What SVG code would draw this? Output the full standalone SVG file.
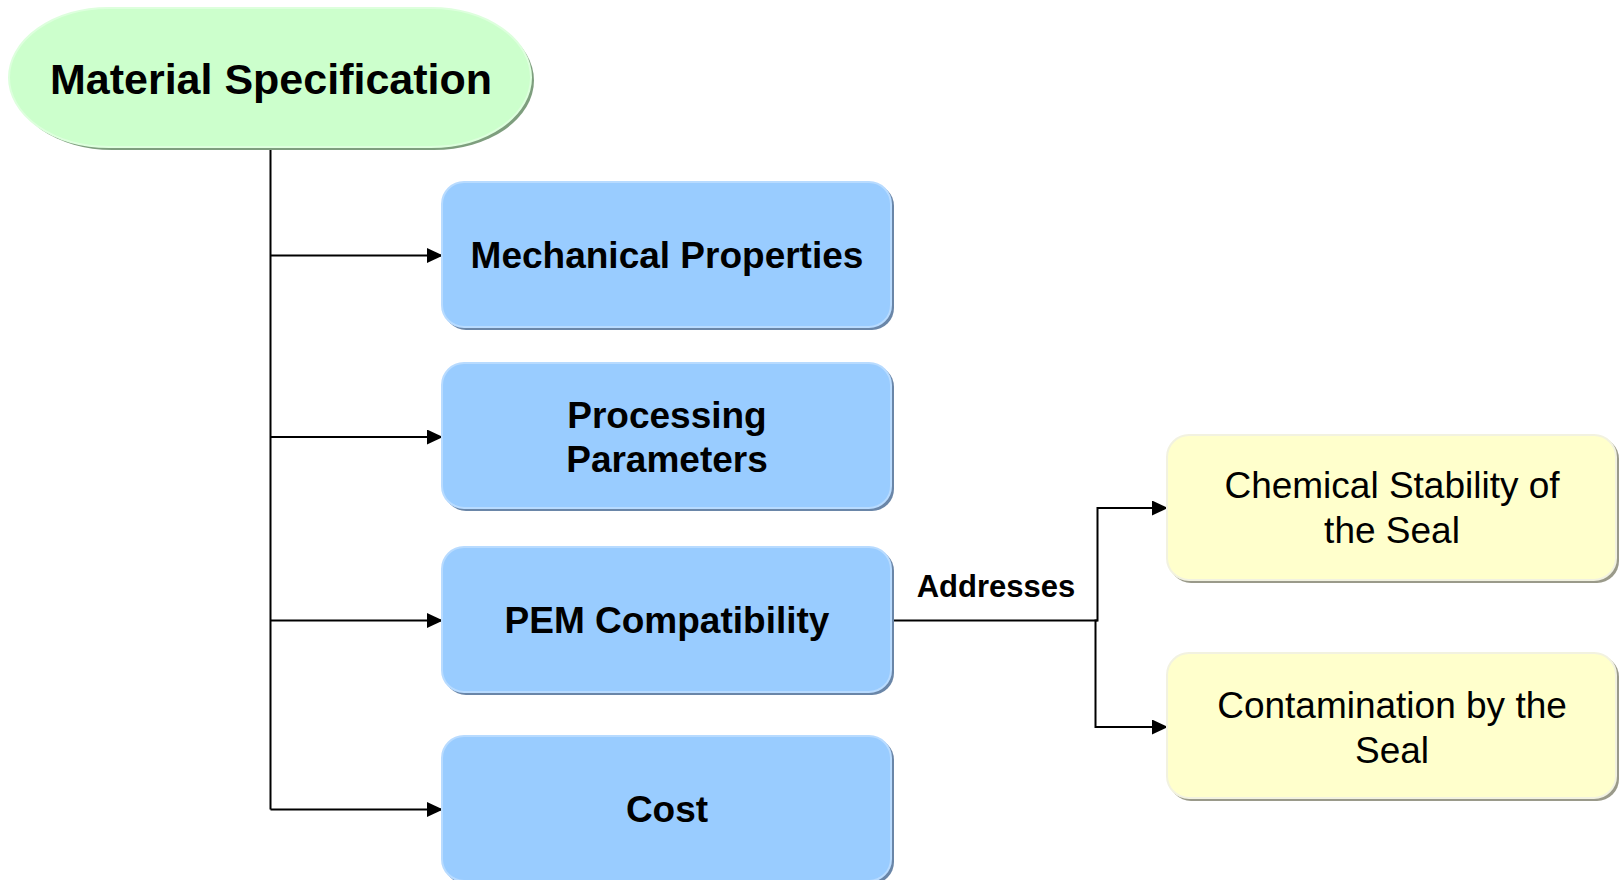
<svg xmlns="http://www.w3.org/2000/svg" width="1619" height="880" viewBox="0 0 1619 880">
<defs>
<style>
.blue{fill:#99CCFF;stroke:#B8DBFF;stroke-width:2}
.blueS{fill:#6A86A8}
.yel{fill:#FFFFCC;stroke:#F2F2E0;stroke-width:2}
.yelS{fill:#9A9A8A}
.grn{fill:#CCFFCC;stroke:#DDFFDD;stroke-width:2}
.grnS{fill:#7E9E7E}
.tb{font-family:"Liberation Sans",Arial,sans-serif;font-weight:bold;fill:#000;text-anchor:middle}
.tn{font-family:"Liberation Sans",Arial,sans-serif;fill:#000;text-anchor:middle}
.ln{fill:none;stroke:#000;stroke-width:2}
</style>
<marker id="ah" viewBox="0 0 10 10" refX="10" refY="5" markerWidth="16" markerHeight="15" markerUnits="userSpaceOnUse" orient="auto" preserveAspectRatio="none">
<path d="M0,0 L10,5 L0,10 z" fill="#000"/>
</marker>
</defs>
<rect width="1619" height="880" fill="#fff"/>
<g id="connectors">
<path class="ln" d="M270.5,147 V809.5"/>
<path class="ln" d="M270.5,255.5 H443" marker-end="url(#ah)"/>
<path class="ln" d="M270.5,437 H443" marker-end="url(#ah)"/>
<path class="ln" d="M270.5,620.5 H443" marker-end="url(#ah)"/>
<path class="ln" d="M270.5,809.5 H443" marker-end="url(#ah)"/>
<path class="ln" d="M891,620.5 H1097.5 V508 H1168" marker-end="url(#ah)"/>
<path class="ln" d="M1097.5,620.5 H1095.5 V727 H1168" marker-end="url(#ah)"/>
<text class="tb" x="996" y="597" font-size="31">Addresses</text>
</g>
<g id="material-specification">
<rect class="grnS" x="12" y="11" width="522" height="139" rx="100" ry="69.5"/>
<rect class="grn" x="9" y="8" width="522" height="139" rx="100" ry="69.5"/>
<text class="tb" x="271" y="94" font-size="43">Material Specification</text>
</g>
<g id="mechanical-properties">
<rect class="blueS" x="444" y="184" width="450" height="146" rx="22"/>
<rect class="blue" x="442" y="182" width="449" height="145" rx="22"/>
<text class="tb" x="667" y="268" font-size="37">Mechanical Properties</text>
</g>
<g id="processing-parameters">
<rect class="blueS" x="444" y="365" width="450" height="146" rx="22"/>
<rect class="blue" x="442" y="363" width="449" height="145" rx="22"/>
<text class="tb" x="667" y="428" font-size="37">Processing</text>
<text class="tb" x="667" y="472" font-size="37">Parameters</text>
</g>
<g id="pem-compatibility">
<rect class="blueS" x="444" y="549" width="450" height="146" rx="22"/>
<rect class="blue" x="442" y="547" width="449" height="145" rx="22"/>
<text class="tb" x="667" y="633" font-size="37">PEM Compatibility</text>
</g>
<g id="cost">
<rect class="blueS" x="444" y="738" width="450" height="146" rx="22"/>
<rect class="blue" x="442" y="736" width="449" height="145" rx="22"/>
<text class="tb" x="667" y="822" font-size="37">Cost</text>
</g>
<g id="chemical-stability">
<rect class="yelS" x="1169" y="437" width="450" height="146" rx="22"/>
<rect class="yel" x="1167" y="435" width="449" height="145" rx="22"/>
<text class="tn" x="1392" y="498" font-size="37">Chemical Stability of</text>
<text class="tn" x="1392" y="543" font-size="37">the Seal</text>
</g>
<g id="contamination">
<rect class="yelS" x="1169" y="655" width="450" height="146" rx="22"/>
<rect class="yel" x="1167" y="653" width="449" height="145" rx="22"/>
<text class="tn" x="1392" y="718" font-size="37">Contamination by the</text>
<text class="tn" x="1392" y="763" font-size="37">Seal</text>
</g>
</svg>
